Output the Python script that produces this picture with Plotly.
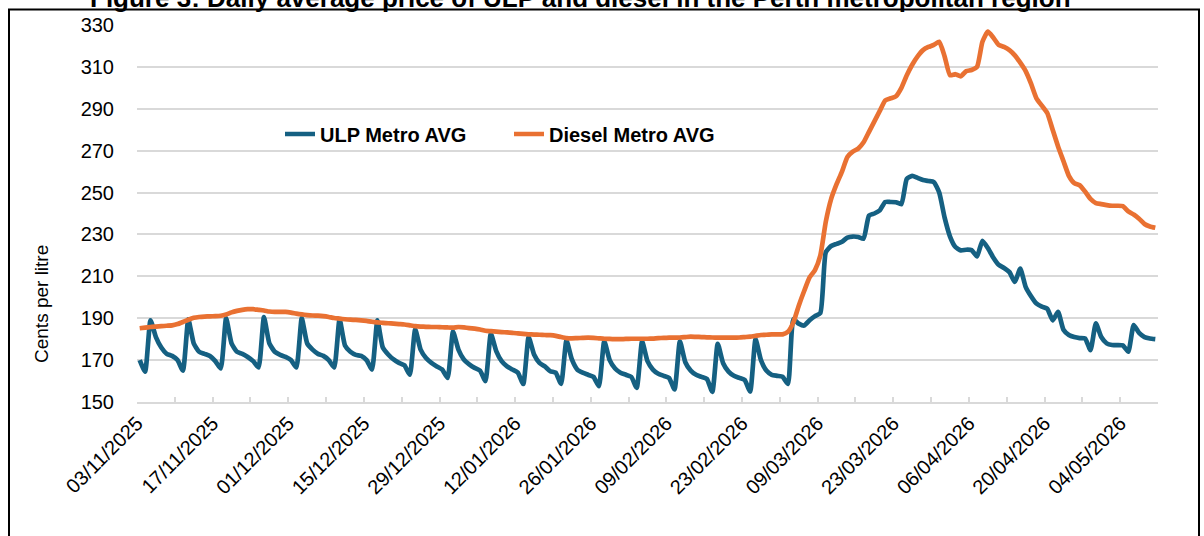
import pandas as pd
import plotly.graph_objects as go

# ---------------- data ----------------
start_date = "2025-11-03 12:00"
n_days = 189
dates = pd.date_range(start_date, periods=n_days, freq="D")

ulp_metro_avg = [
    170, 164.5, 189, 181, 176, 173, 172,
    170, 165, 189.5, 178, 174, 173, 172,
    169.5, 166, 190, 178, 174, 173, 171.5,
    169.5, 166.5, 190.5, 178, 174, 172.5, 171.5,
    170, 166.5, 190, 178, 175, 173, 172,
    170, 166.5, 189.5, 177, 174, 172.5, 172,
    170, 165.5, 189, 176, 172.7, 170.3, 168.7,
    167.5, 163, 184.7, 175, 171, 168.7, 167,
    165.5, 161.5, 183.6, 175, 170.3, 168, 166.3,
    165, 160, 182.6, 174.3, 169.5, 167, 165.5,
    164, 158.6, 181, 172.7, 168.7, 167, 164.7,
    164, 158.6, 179.4, 170.3, 165.5, 164, 163,
    162, 157.5, 179, 170, 166, 164, 163,
    162, 156.7, 179, 169.5, 165.5, 163.5, 162.5,
    161.5, 156, 179, 169, 165, 163, 162,
    161, 154.8, 177.8, 168.5, 164.5, 162.5, 161.5,
    160.5, 155, 180, 170, 165, 163, 162.5,
    162, 158.6, 189.5, 187.4, 186.5, 189, 191,
    192.5, 221.5, 224.5, 225.5, 226.5, 228.5, 229,
    228.8, 228, 239, 240, 241.5, 245.5, 245.5,
    245.4, 244.5, 256.5, 258, 257, 256, 255.5,
    255, 250, 238, 229, 224, 222.4, 222.7,
    222.5, 219.5, 227, 223.5, 219, 215.5, 214,
    212, 207.3, 213.7, 205, 200.5, 197, 195.5,
    194.5, 189, 193, 184.5, 182, 181, 180.5,
    180.3, 174.8, 187.5, 181, 178, 177.2, 177.2,
    177, 174, 186.7, 183, 181, 180.3, 180,
]

diesel_metro_avg = [
    185.2, 185.5, 185.8, 186.0, 186.2, 186.4, 186.6,
    187.2, 188.2, 189.3, 190.2, 190.6, 190.8, 190.9,
    191.0, 191.2, 191.8, 192.8, 193.5, 194.0, 194.3,
    194.3, 194.0, 193.7, 193.2, 193.0, 193.0, 193.0,
    192.7, 192.2, 191.8, 191.5, 191.3, 191.2, 191.0,
    190.6, 190.1, 189.8, 189.5, 189.3, 189.2, 189.0,
    188.7, 188.3, 188.0, 187.8, 187.6, 187.4, 187.2,
    187.0, 186.6, 186.2, 186.0, 185.9, 185.8, 185.8,
    185.7, 185.6, 185.5, 185.8, 185.6, 185.3, 185.0,
    184.6, 184.0, 183.8, 183.6, 183.4, 183.2, 183.0,
    182.8, 182.5, 182.3, 182.2, 182.1, 182.0, 181.9,
    181.6, 181.0, 180.5, 180.4, 180.5, 180.6, 180.7,
    180.6, 180.4, 180.2, 180.1, 180.0, 180.0, 180.1,
    180.2, 180.2, 180.2, 180.2, 180.3, 180.5, 180.6,
    180.7, 180.7, 180.8, 181.0, 181.2, 181.1, 181.0,
    180.9, 180.8, 180.7, 180.7, 180.7, 180.7, 180.8,
    181.0, 181.2, 181.6, 182.0, 182.1, 182.3, 182.3,
    182.3, 183.5, 188.0, 196.0, 203.0, 209.5, 213.0,
    220.0, 236.0, 247.0, 254.0, 260.0, 267.0, 269.5,
    271.0, 274.0, 279.0, 284.0, 289.0, 294.0, 295.0,
    296.0, 300.0, 306.0, 311.0, 315.0, 318.0, 319.5,
    320.5, 322.0, 315.0, 306.0, 306.5, 305.5, 308.0,
    308.5, 310.0, 322.0, 326.8, 324.0, 320.5, 319.5,
    318.0, 315.5, 312.0, 308.0, 302.0, 295.0, 291.5,
    288.0, 280.0, 272.0, 265.0, 258.0, 254.5, 253.5,
    250.5, 247.0, 245.0, 244.5, 244.0, 243.7, 243.7,
    243.5, 241.0, 239.5, 237.5, 235.0, 233.8, 233.2,
]

series_names = ["ULP Metro AVG", "Diesel Metro AVG"]
title_text = "Figure 3: Daily average price of ULP and diesel in the Perth metropolitan region"
y_title = "Cents per litre"
y_range = [150, 330]
x_range = ["2025-11-03", "2026-05-11"]

assert len(ulp_metro_avg) == n_days and len(diesel_metro_avg) == n_days

# ---------------- figure ----------------
BLUE = "#156082"
ORANGE = "#E97132"
GRID = "#D9D9D9"
W, H = 1204, 536
ML, MR, MT, MB = 137, 46, 25, 134
PW, PH = W - ML - MR, H - MT - MB


def px(xp):
    return (xp - ML) / PW


def py(yp):
    return (H - MB - yp) / PH


fig = go.Figure()
fig.add_trace(go.Scatter(x=dates, y=ulp_metro_avg, mode="lines", name=series_names[0],
                         line=dict(color=BLUE, width=4.7, shape="spline", smoothing=0.5)))
fig.add_trace(go.Scatter(x=dates, y=diesel_metro_avg, mode="lines", name=series_names[1],
                         line=dict(color=ORANGE, width=4.7, shape="spline", smoothing=0.5)))

WEEK = 7 * 24 * 3600 * 1000
fig.update_layout(
    width=W, height=H,
    margin=dict(l=ML, r=MR, t=MT, b=MB, pad=0),
    paper_bgcolor="white", plot_bgcolor="white",
    font=dict(family="Liberation Sans, Arial, sans-serif", color="#000000"),
    showlegend=True,
    legend=dict(orientation="h", x=px(280), xanchor="left", y=py(134), yanchor="middle",
                font=dict(size=20, family="Liberation Sans, Arial, sans-serif", weight="bold"),
                bgcolor="rgba(0,0,0,0)", entrywidth=184, entrywidthmode="pixels",
                itemclick=False),
    xaxis=dict(type="date", range=x_range, tick0="2025-11-03", dtick=2 * WEEK,
               tickformat="%d/%m/%Y", tickangle=-45, tickfont=dict(size=20),
               showgrid=False, showline=True, linecolor=GRID, linewidth=1.5,
               ticks="inside", ticklen=5, tickcolor=GRID, tickwidth=1.5,
               minor=dict(dtick=WEEK, tick0="2025-11-03", ticks="inside", ticklen=5,
                          tickcolor=GRID, tickwidth=1.5, showgrid=False),
               zeroline=False, fixedrange=True),
    yaxis=dict(range=y_range, dtick=20, tick0=150, tickfont=dict(size=20),
               showgrid=True, gridcolor=GRID, gridwidth=1.5, showline=False,
               zeroline=False, ticks="", ticklabelstandoff=22, fixedrange=True),
)

# y-axis title
fig.add_annotation(text=y_title, xref="paper", yref="paper", x=px(41), y=py(304),
                   showarrow=False, textangle=-90, font=dict(size=19),
                   xanchor="center", yanchor="middle")
# chart title (cropped at the top as in the source)
fig.add_annotation(text="<b>" + title_text + "</b>", xref="paper", yref="paper",
                   x=px(580), y=py(-2), showarrow=False, font=dict(size=26),
                   xanchor="center", yanchor="middle")
# chart frame
fig.add_shape(type="rect", xref="paper", yref="paper",
              x0=px(9), x1=px(1199), y0=py(560), y1=py(9.5),
              line=dict(color="black", width=2), fillcolor="rgba(0,0,0,0)", layer="below")

fig.write_html("out.html", include_plotlyjs=True, config={"displayModeBar": False},
               post_script="document.body.style.margin='0';document.body.style.overflow='hidden';")
